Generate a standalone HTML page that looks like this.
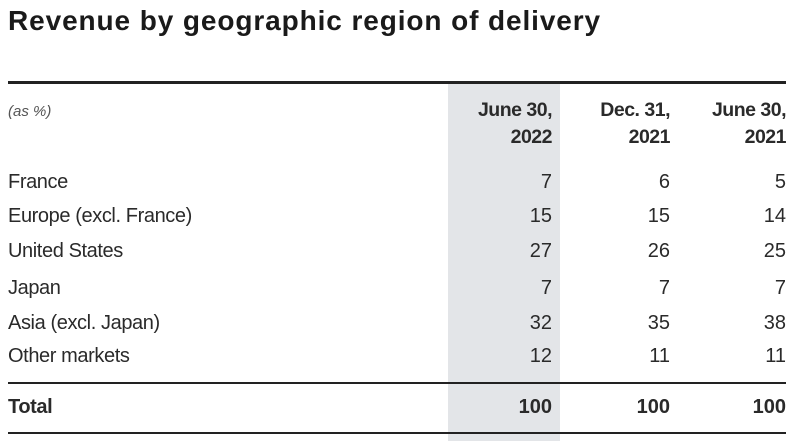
<!DOCTYPE html>
<html><head><meta charset="utf-8"><style>
body{margin:0;width:794px;height:441px;background:#fff;font-family:"Liberation Sans",sans-serif;color:#2a2a2a;position:relative;overflow:hidden}
.a{position:absolute}
.t{left:8px;top:5px;font-size:28px;font-weight:bold;color:#1a1a1a;letter-spacing:0.9px}
.shade{left:448px;top:83px;width:112px;height:358px;background:#e3e5e8}
.rule{left:8px;width:778px;background:#222}
.lbl{left:8px;font-size:20px;letter-spacing:-0.4px}
.v{font-size:20px;text-align:right;width:100px}
.h{font-size:19.5px;font-weight:bold;text-align:right;width:120px;line-height:27px;letter-spacing:-0.5px}
</style></head><body>
<div class="a t">Revenue by geographic region of delivery</div>
<div class="a shade"></div>
<div class="a rule" style="top:81px;height:3px"></div>
<div class="a rule" style="top:382px;height:2px"></div>
<div class="a rule" style="top:432px;height:2px"></div>
<div class="a" style="left:8px;top:103px;font-size:15px;font-style:italic;color:#555">(as %)</div>
<div class="a h" style="left:432px;top:97px">June 30,<br>2022</div>
<div class="a h" style="left:550px;top:97px">Dec. 31,<br>2021</div>
<div class="a h" style="left:666px;top:97px">June 30,<br>2021</div>
<div id="rows"></div>
<script>
const regions=["France","Europe (excl. France)","United States","Japan","Asia (excl. Japan)","Other markets"];
const jun2022=[7,15,27,7,32,12];
const dec2021=[6,15,26,7,35,11];
const jun2021=[5,14,25,7,38,11];
const totals=[100,100,100];
const tops=[171,205,240,277,312,345];
const rights=[452,570,686];
const host=document.getElementById('rows');
function add(cls,txt,left,top,bold){const d=document.createElement('div');d.className='a '+cls;d.textContent=txt;d.style.left=left+'px';d.style.top=top+'px';if(bold)d.style.fontWeight='bold';host.appendChild(d);return d;}
regions.forEach((r,i)=>{
 const l=add('lbl',r,8,tops[i]);
 
 
 [jun2022,dec2021,jun2021].forEach((s,j)=>{
  const c=add('v',String(s[i]),rights[j],tops[i]);
  
  
 });
});
const tl=add('lbl','Total',8,396,true);


totals.forEach((v,j)=>{
 const c=add('v',String(v),rights[j],396,true);
 
 
});
</script>
</body></html>
